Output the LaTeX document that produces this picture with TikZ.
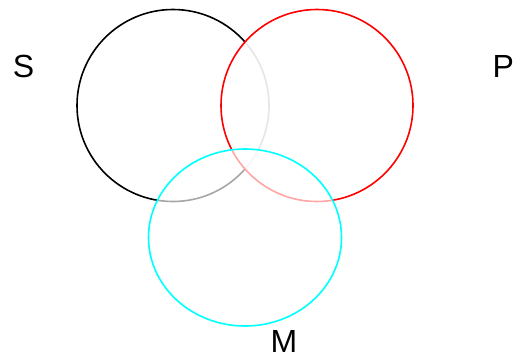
\documentclass[tikz,border=0pt]{standalone}
\usepackage{fontspec}
\setmainfont{Liberation Sans}
\definecolor{aqua}{RGB}{0,255,255}
\definecolor{pured}{RGB}{255,0,0}
\begin{document}
\begin{tikzpicture}[x=1pt,y=-1pt,
  ring/.style={line width=1.6pt},
  lbl/.style={font=\fontsize{32}{36}\selectfont, inner sep=0pt}]
\useasboundingbox (0,0) rectangle (513,356);
\fill[white] (0,0) rectangle (513,356);
\draw[ring, black] (173,105.5) circle[radius=96];
\draw[ring, pured, fill=white, fill opacity=0.9] (317,105.5) circle[radius=96];
\draw[ring, aqua, fill=white, fill opacity=0.65] (245,237.5) ellipse[x radius=96.5, y radius=88.5];
\node[lbl, anchor=base] (S) at (23.5,77) {S};
\node[lbl, anchor=base west] (P) at (492.5,77) {P};
\node[lbl, anchor=base] (M) at (284,352.5) {M};
\end{tikzpicture}
\end{document}
